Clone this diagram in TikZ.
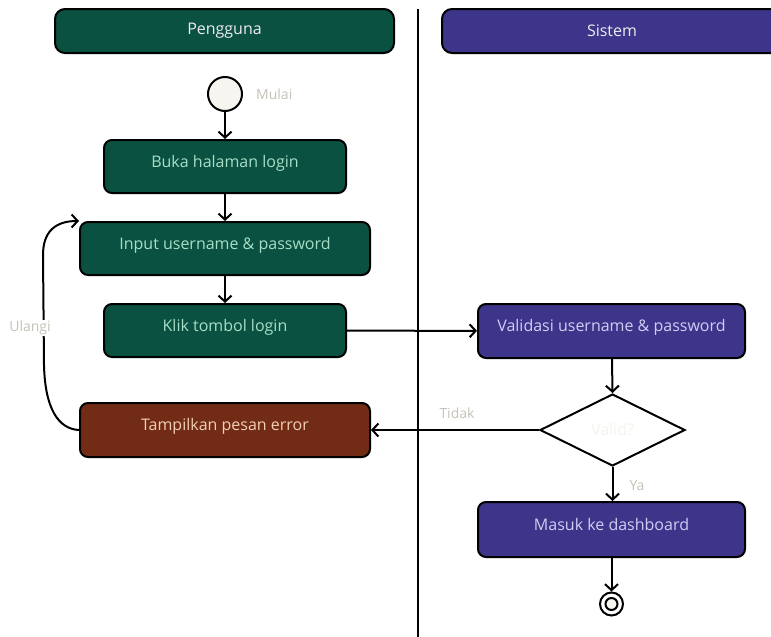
\documentclass[tikz,border=0pt]{standalone}
\usepackage{fontspec}
\setmainfont{Open Sans}
\usetikzlibrary{shapes.geometric,arrows.meta}

\definecolor{usergreen}{HTML}{0B5142}
\definecolor{usertext}{HTML}{A6DEC6}
\definecolor{syspurple}{HTML}{3D3589}
\definecolor{systext}{HTML}{D2CCF5}
\definecolor{errbrown}{HTML}{722C15}
\definecolor{errtext}{HTML}{F3CDB5}
\definecolor{notegray}{HTML}{C6C2B8}
\definecolor{paleface}{HTML}{F7F5F0}
\definecolor{faintnote}{HTML}{F6F4EF}
\definecolor{headtext}{HTML}{EDEBF0}

\tikzset{
  lane/.style={draw=black, line width=2pt, rounded corners=10pt, minimum height=44pt,
    text=headtext, font=\fontsize{16}{18}\selectfont},
  actbox/.style={draw=black, line width=2pt, rounded corners=8pt,
    font=\fontsize{16}{18}\selectfont, text height=12pt, text depth=11pt},
  userbox/.style={actbox, fill=usergreen, text=usertext, minimum height=53pt},
  sysbox/.style={actbox, fill=syspurple, text=systext, minimum height=54pt},
  errbox/.style={actbox, fill=errbrown, text=errtext, minimum height=54pt},
  flow/.style={draw=black, line width=2pt,
    -{Straight Barb[length=6pt,width=13pt,line width=2pt]}},
  note/.style={text=notegray, font=\fontsize{14}{16}\selectfont, inner sep=1pt},
}

\begin{document}
\begin{tikzpicture}[x=1pt,y=-1pt]
\useasboundingbox (0,0) rectangle (771,637);

% swimlane headers and divider
\node[lane, fill=usergreen, minimum width=339pt] (laneU) at (224.5,31) {Pengguna};
\node[lane, fill=syspurple, minimum width=340pt] (laneS) at (612,31) {Sistem};
\coordinate (divtop) at (418,9);
\coordinate (divbot) at (418,640);
\draw[line width=2pt] (divtop) -- (divbot);

% start
\node[circle, draw=black, line width=2pt, fill=paleface, minimum size=34pt, inner sep=0pt] (start) at (225,94) {};
\node[note, anchor=west] (mulai) at (255,94) {Mulai};

% user actions
\node[userbox, minimum width=242pt] (buka) at (225,166.5) {Buka halaman login};
\node[userbox, minimum width=290pt] (input) at (225,248.5) {Input username \& password};
\node[userbox, minimum width=242pt] (klik) at (225,330.5) {Klik tombol login};
\node[errbox, minimum width=290pt] (tamp) at (225,430) {Tampilkan pesan error};

% system actions
\node[sysbox, minimum width=267pt] (valid) at (611.5,331) {Validasi username \& password};
\node[diamond, aspect=2, draw=black, line width=2pt, fill=white, minimum width=145pt,
  minimum height=72pt, inner sep=0pt, text=faintnote,
  font=\fontsize{16}{18}\selectfont] (cek) at (612.5,430) {Valid?};
\node[sysbox, minimum width=267pt, minimum height=55pt] (masuk) at (611.5,529.5) {Masuk ke dashboard};

% end
\node[circle, draw=black, line width=2pt, fill=white, minimum size=23pt, inner sep=0pt] (stop) at (611.5,604) {};
\node[circle, draw=black, line width=2pt, fill=paleface, minimum size=12pt, inner sep=0pt] (stopin) at (611.5,604) {};

% flow
\draw[flow] (start) -- (buka);
\draw[flow] (buka) -- (input);
\draw[flow] (input) -- (klik);
\draw[flow] (klik) -- (valid);
\draw[flow] ([xshift=0.5pt]valid.south) -- (cek.north);
\draw[flow] (cek) -- (tamp);
\node[note] (tidak) at (457,413) {Tidak};
\draw[flow] (cek) -- (masuk.north -| cek);
\node[note] (ya) at (637,486) {Ya};
\draw[flow] (masuk.south -| stop) -- (stop);

% retry loop
\draw[flow] (tamp.west) .. controls (58,429) and (45,408) .. (44,365)
  -- (43,255) .. controls (43,232) and (55,221) .. (input.north west);
\node[note, fill=white] (ulangi) at (30,328) {Ulangi};
\end{tikzpicture}
\end{document}
